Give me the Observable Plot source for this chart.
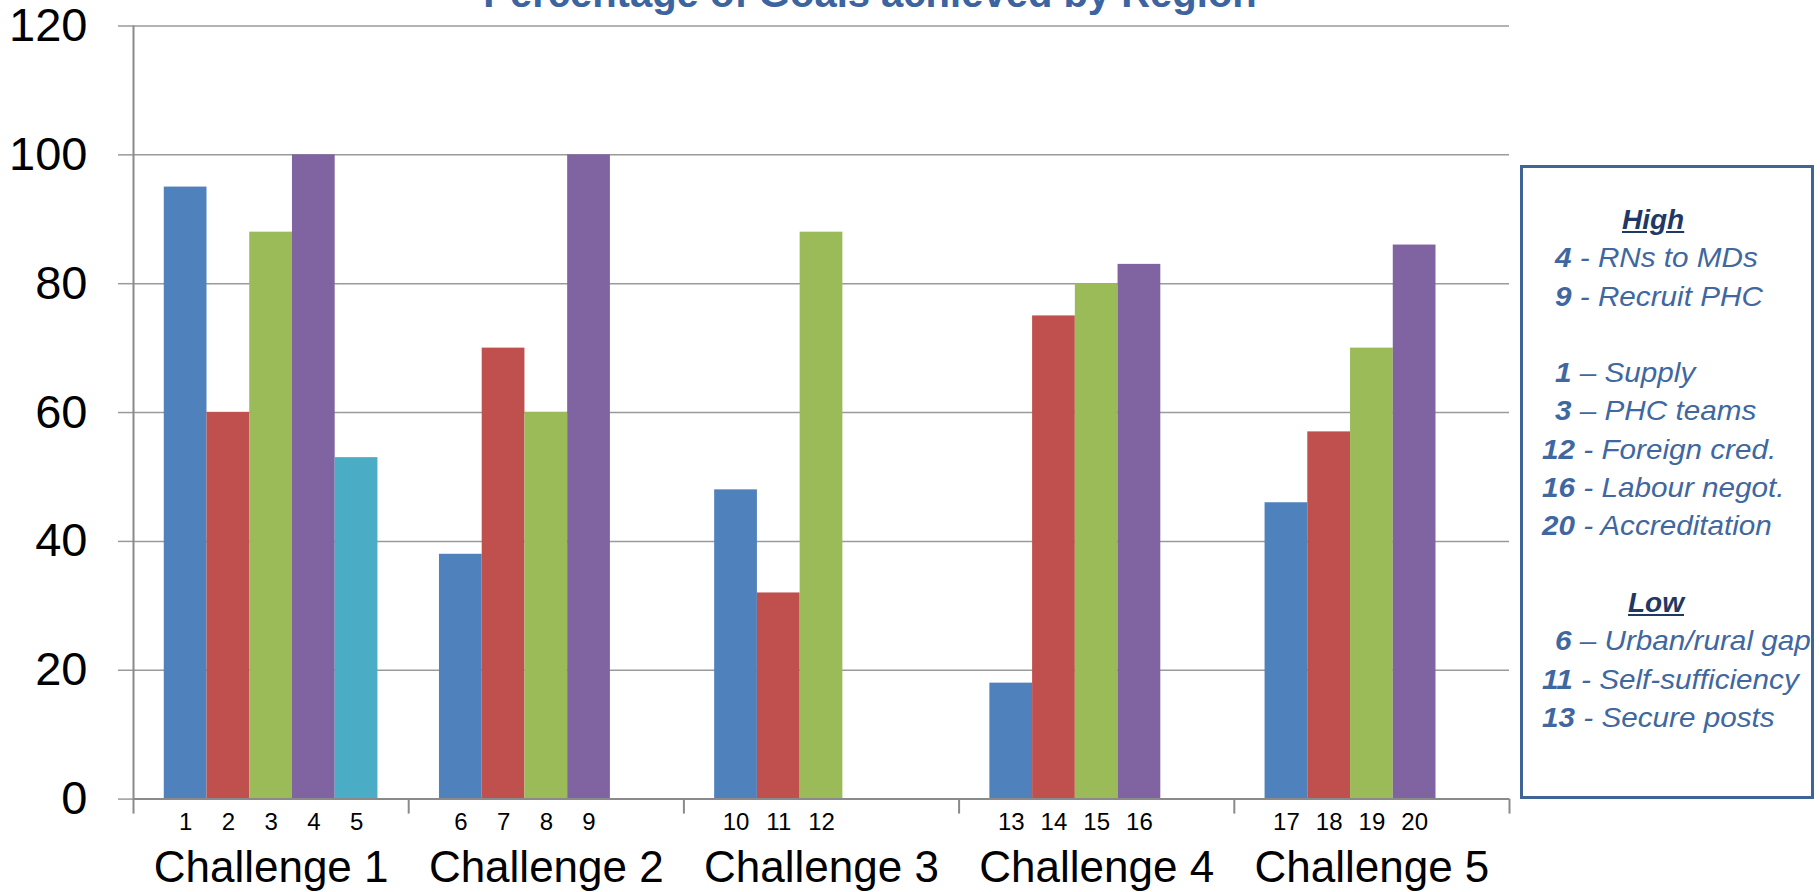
<!DOCTYPE html>
<html>
<head>
<meta charset="utf-8">
<script src="https://cdn.jsdelivr.net/npm/d3@7"></script>
<script src="https://cdn.jsdelivr.net/npm/@observablehq/plot@0.6"></script>
<style>
  html, body { margin: 0; padding: 0; background: white; overflow: hidden; }
  #wrap { position: relative; width: 1820px; height: 892px; overflow: hidden; }
  #title { position: absolute; left: 0; width: 1740px; top: -29px; text-align: center;
    font: bold 40px "Liberation Sans", sans-serif; color: #3B64A0; white-space: nowrap; }
  #legend { position: absolute; left: 1520px; top: 165px; width: 288px; height: 595px; overflow: hidden;
    border: 3px solid #3F6597; box-sizing: content-box; padding-top: 33px;
    font: italic 28px "Liberation Sans", sans-serif; color: #3F67A0; line-height: 38.3px; white-space: nowrap; }
  #legend .h { color: #1F3864; font-weight: bold; text-decoration: underline; }
  #legend b { font-weight: bold; }
  #legend div { height: 38.3px; }
  #legend div span.t { display: inline-block; transform: scaleX(1.06); transform-origin: left center; }
</style>
</head>
<body>
<div id="wrap">
  <div id="chart"></div>
  <div id="title">Percentage of Goals achieved by Region</div>
  <div id="legend"></div>
</div>
<script>
const challenges = ["Challenge 1", "Challenge 2", "Challenge 3", "Challenge 4", "Challenge 5"];
const goalIds = [[1, 2, 3, 4, 5], [6, 7, 8, 9], [10, 11, 12], [13, 14, 15, 16], [17, 18, 19, 20]];
const values = [[95, 60, 88, 100, 53], [38, 70, 60, 100], [48, 32, 88], [18, 75, 80, 83], [46, 57, 70, 86]];
const seriesColors = ["#4F81BD", "#C0504D", "#9BBB59", "#8064A2", "#4BACC6"];
const yTicks = [0, 20, 40, 60, 80, 100, 120];
const legendHigh = [["4", " - RNs to MDs", 32], ["9", " - Recruit PHC", 32], null,
  ["1", " \u2013 Supply", 32], ["3", " \u2013 PHC teams", 32], ["12", " - Foreign  cred.", 19],
  ["16", " - Labour negot.", 19], ["20", " - Accreditation", 19]];
const legendLow = [["6", " \u2013 Urban/rural gap", 32], ["11", " - Self-sufficiency", 19], ["13", " - Secure posts", 19]];

// within-group slot layout (5 slots per challenge)
const slots = d3.range(5);
const inner = d3.scaleBand().domain(slots).range([0, 1]).paddingInner(0).paddingOuter(0.72);

const rows = [];
challenges.forEach((c, gi) => {
  values[gi].forEach((v, si) => {
    const x1 = gi + inner(si);
    rows.push({challenge: c, slot: si, id: goalIds[gi][si], value: v, x1, x2: x1 + inner.bandwidth(), xc: x1 + inner.bandwidth() / 2});
  });
});
const groups = challenges.map((c, gi) => ({name: c, xc: gi + 0.5}));
const bounds = d3.range(challenges.length + 1);

const chart = Plot.plot({
  width: 1820,
  height: 892,
  marginLeft: 133,
  marginRight: 311,
  marginTop: 25.5,
  marginBottom: 93.4,
  style: {fontFamily: "Liberation Sans, sans-serif", background: "white", color: "black"},
  x: {domain: [0, challenges.length], axis: null},
  y: {domain: [0, 120], axis: null},
  color: {type: "ordinal", domain: slots, range: seriesColors},
  marks: [
    Plot.ruleY(yTicks, {stroke: "#9a9a9a", strokeWidth: 1.5}),
    Plot.axisY(yTicks, {anchor: "left", tickSize: 15, tickPadding: 31, fontSize: 47, stroke: "#9a9a9a", strokeWidth: 1.5, fill: "black", label: null}),
    Plot.rectY(rows, {x1: "x1", x2: "x2", y: "value", fill: "slot"}),
    Plot.ruleX([0], {y1: 0, y2: 120, stroke: "#8a8a8a", strokeWidth: 2}),
    Plot.ruleY([0], {stroke: "#8a8a8a", strokeWidth: 2}),
    Plot.axisX(bounds, {anchor: "bottom", tickSize: 15, tickFormat: () => "", stroke: "#8a8a8a", strokeWidth: 2, label: null}),
    Plot.text(rows, {x: "xc", y: 0, text: d => String(d.id), dy: 31, lineAnchor: "bottom", fontSize: 24, fill: "black"}),
    Plot.text(groups, {x: "xc", y: 0, text: "name", dy: 83, lineAnchor: "bottom", fontSize: 44, fill: "black"})
  ]
});
document.getElementById("chart").appendChild(chart);

// legend
const lg = document.getElementById("legend");
function addHead(t, pad) {
  const d = document.createElement("div");
  d.innerHTML = `<span class="h">${t}</span>`;
  d.style.paddingLeft = pad + "px";
  lg.appendChild(d);
}
function addItems(items) {
  items.forEach(it => {
    const d = document.createElement("div");
    if (it) { d.innerHTML = `<span class="t"><b>${it[0]}</b>${it[1]}</span>`; d.style.paddingLeft = it[2] + "px"; }
    lg.appendChild(d);
  });
}
addHead("High", 99);
addItems(legendHigh);
addItems([null]);
addHead("Low", 105);
addItems(legendLow);
</script>
</body>
</html>
